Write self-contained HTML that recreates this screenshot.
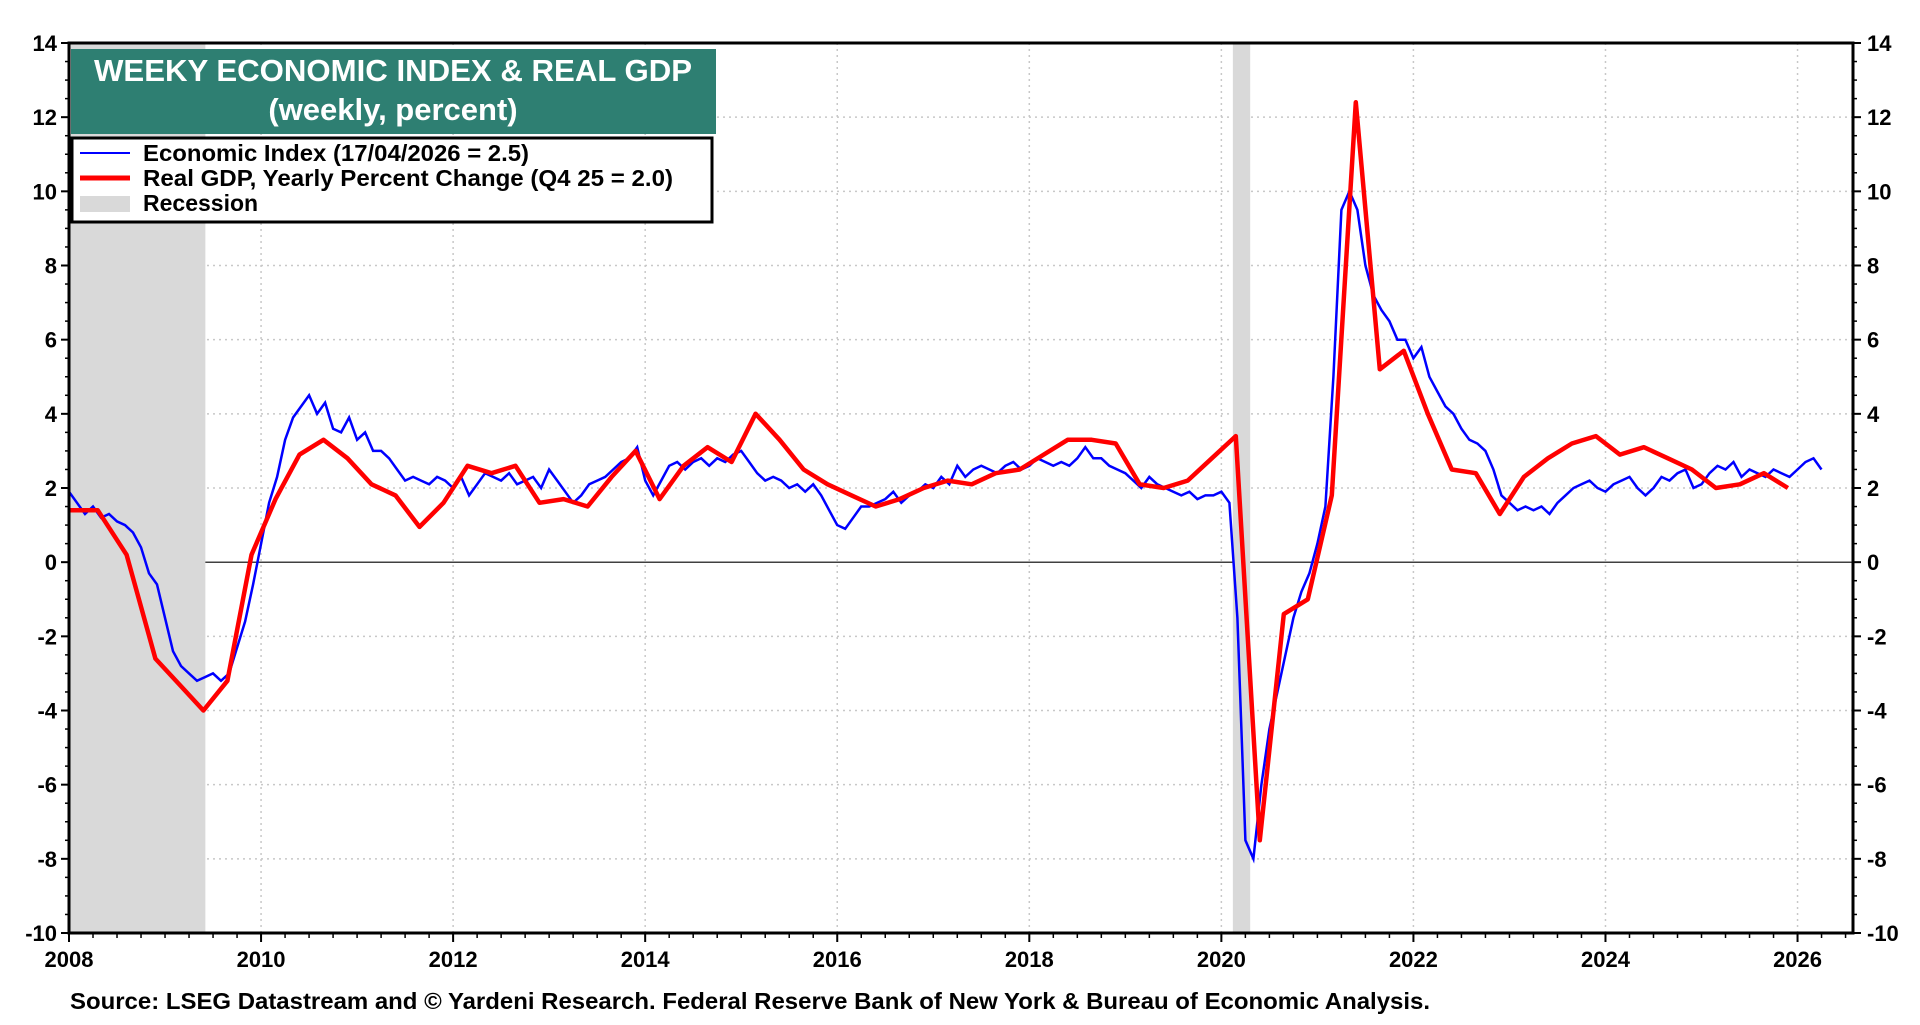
<!DOCTYPE html>
<html><head><meta charset="utf-8">
<style>
html,body{margin:0;padding:0;background:#fff;}
body{width:1920px;height:1020px;overflow:hidden;position:relative;font-family:"Liberation Sans",Arial,sans-serif;}
svg text{font-family:"Liberation Sans",Arial,sans-serif;font-weight:bold;}
</style></head>
<body>
<svg id="chart" width="1920" height="1020" xmlns="http://www.w3.org/2000/svg">
<g id="grid"></g>
<g id="rec"></g>
<g id="series"></g>
<g id="axes"></g>
<g>
<rect x="71" y="49" width="645" height="85" fill="#2e7f72"/>
<text x="393" y="81" font-size="31" fill="#fff" text-anchor="middle" textLength="598" lengthAdjust="spacingAndGlyphs">WEEKY ECONOMIC INDEX &amp; REAL GDP</text>
<text x="393" y="120" font-size="31" fill="#fff" text-anchor="middle">(weekly, percent)</text>
</g>
<g>
<rect x="72" y="138" width="640" height="84" fill="#fff" stroke="#000" stroke-width="3"/>
<line x1="80" y1="153" x2="130" y2="153" stroke="#0000ff" stroke-width="2"/>
<text x="143" y="161" font-size="23" textLength="386" lengthAdjust="spacingAndGlyphs">Economic Index (17/04/2026 = 2.5)</text>
<line x1="80" y1="178" x2="130" y2="178" stroke="#ff0000" stroke-width="5"/>
<text x="143" y="186" font-size="23" textLength="530" lengthAdjust="spacingAndGlyphs">Real GDP, Yearly Percent Change (Q4 25 = 2.0)</text>
<rect x="80" y="196" width="50" height="16" fill="#d9d9d9"/>
<text x="143" y="211" font-size="23">Recession</text>
</g>
<text x="70" y="1009" font-size="23" textLength="1360" lengthAdjust="spacingAndGlyphs">Source: LSEG Datastream and © Yardeni Research. Federal Reserve Bank of New York &amp; Bureau of Economic Analysis.</text>
</svg>
<script>
const yTicks=[14,12,10,8,6,4,2,0,-2,-4,-6,-8,-10];
const xTickYears=[2008,2010,2012,2014,2016,2018,2020,2022,2024,2026];
const recessions=[[2008.0,2009.42],[2020.12,2020.3]];
const gdpDates=[2008.0,2008.3,2008.6,2008.9,2009.15,2009.4,2009.65,2009.9,2010.15,2010.4,2010.65,2010.9,2011.15,2011.4,2011.65,2011.9,2012.15,2012.4,2012.65,2012.9,2013.15,2013.4,2013.65,2013.9,2014.15,2014.4,2014.65,2014.9,2015.15,2015.4,2015.65,2015.9,2016.15,2016.4,2016.65,2016.9,2017.15,2017.4,2017.65,2017.9,2018.15,2018.4,2018.65,2018.9,2019.15,2019.4,2019.65,2019.9,2020.15,2020.4,2020.65,2020.9,2021.15,2021.4,2021.65,2021.9,2022.15,2022.4,2022.65,2022.9,2023.15,2023.4,2023.65,2023.9,2024.15,2024.4,2024.65,2024.9,2025.15,2025.4,2025.65,2025.9];
const gdpValues=[1.4,1.4,0.2,-2.6,-3.3,-4.0,-3.2,0.2,1.7,2.9,3.3,2.8,2.1,1.8,0.95,1.6,2.6,2.4,2.6,1.6,1.7,1.5,2.3,3.0,1.7,2.6,3.1,2.7,4.0,3.3,2.5,2.1,1.8,1.5,1.7,2.0,2.2,2.1,2.4,2.5,2.9,3.3,3.3,3.2,2.1,2.0,2.2,2.8,3.4,-7.5,-1.4,-1.0,1.8,12.4,5.2,5.7,4.0,2.5,2.4,1.3,2.3,2.8,3.2,3.4,2.9,3.1,2.8,2.5,2.0,2.1,2.4,2.0];
const eiStart=2008.0;
const eiValues=[1.9,1.6,1.3,1.5,1.2,1.3,1.1,1.0,0.8,0.4,-0.3,-0.6,
-1.5,-2.4,-2.8,-3.0,-3.2,-3.1,-3.0,-3.2,-3.0,-2.3,-1.6,-0.6,
0.5,1.6,2.3,3.3,3.9,4.2,4.5,4.0,4.3,3.6,3.5,3.9,
3.3,3.5,3.0,3.0,2.8,2.5,2.2,2.3,2.2,2.1,2.3,2.2,
2.0,2.3,1.8,2.1,2.4,2.3,2.2,2.4,2.1,2.2,2.3,2.0,
2.5,2.2,1.9,1.6,1.8,2.1,2.2,2.3,2.5,2.7,2.8,3.1,
2.2,1.8,2.2,2.6,2.7,2.5,2.7,2.8,2.6,2.8,2.7,2.9,
3.0,2.7,2.4,2.2,2.3,2.2,2.0,2.1,1.9,2.1,1.8,1.4,
1.0,0.9,1.2,1.5,1.5,1.6,1.7,1.9,1.6,1.8,1.9,2.1,
2.0,2.3,2.1,2.6,2.3,2.5,2.6,2.5,2.4,2.6,2.7,2.5,
2.6,2.8,2.7,2.6,2.7,2.6,2.8,3.1,2.8,2.8,2.6,2.5,
2.4,2.2,2.0,2.3,2.1,2.0,1.9,1.8,1.9,1.7,1.8,1.8,
1.9,1.6,-1.5,-7.5,-8.0,-6.0,-4.5,-3.5,-2.5,-1.5,-0.8,-0.3,
0.5,1.5,5.0,9.5,10.0,9.5,8.0,7.2,6.8,6.5,6.0,6.0,
5.5,5.8,5.0,4.6,4.2,4.0,3.6,3.3,3.2,3.0,2.5,1.8,
1.6,1.4,1.5,1.4,1.5,1.3,1.6,1.8,2.0,2.1,2.2,2.0,
1.9,2.1,2.2,2.3,2.0,1.8,2.0,2.3,2.2,2.4,2.5,2.0,
2.1,2.4,2.6,2.5,2.7,2.3,2.5,2.4,2.3,2.5,2.4,2.3,
2.5,2.7,2.8,2.5];

const L=69,R=1853,T=43,B=933,X0=2008,PX_YR=96.03,YMAX=14,YMIN=-10;
const sx=v=>L+(v-X0)*PX_YR;
const sy=v=>T+(YMAX-v)*(B-T)/(YMAX-YMIN);
const NS='http://www.w3.org/2000/svg';
function mk(tag,attrs,parent){const e=document.createElementNS(NS,tag);for(const k in attrs)e.setAttribute(k,attrs[k]);parent.appendChild(e);return e;}
const grid=document.getElementById('grid'),axes=document.getElementById('axes'),rec=document.getElementById('rec'),series=document.getElementById('series');

yTicks.forEach(v=>{
  if(v!==YMAX&&v!==YMIN){const g=mk('line',{x1:L,x2:R,y1:sy(v),y2:sy(v),stroke:v===0?'#000':'#c8c8c8','stroke-width':v===0?1.2:1.5,'stroke-dasharray':v===0?'':'2,4'},grid);
  
  }
  const t1=mk('text',{x:L-12,y:sy(v)+8,'font-size':22,'text-anchor':'end'},axes);t1.textContent=v;
  
  
  const t2=mk('text',{x:R+14,y:sy(v)+8,'font-size':22,'text-anchor':'start'},axes);t2.textContent=v;
  
  
  mk('line',{x1:L-8,x2:L,y1:sy(v),y2:sy(v),stroke:'#000','stroke-width':2},axes);
  mk('line',{x1:R,x2:R+8,y1:sy(v),y2:sy(v),stroke:'#000','stroke-width':2},axes);
});
for(let v=YMIN;v<YMAX;v+=0.5){if(v%2!==0){mk('line',{x1:L-4,x2:L,y1:sy(v),y2:sy(v),stroke:'#000','stroke-width':1.5},axes);mk('line',{x1:R,x2:R+4,y1:sy(v),y2:sy(v),stroke:'#000','stroke-width':1.5},axes);}}
xTickYears.forEach(yr=>{
  if(yr!==X0){const g=mk('line',{x1:sx(yr),x2:sx(yr),y1:T,y2:B,stroke:'#c8c8c8','stroke-width':1.5,'stroke-dasharray':'2,4'},grid);
  
  }
  const t=mk('text',{x:sx(yr),y:B+34,'font-size':22,'text-anchor':'middle'},axes);t.textContent=yr;
  
  
  mk('line',{x1:sx(yr),x2:sx(yr),y1:B,y2:B+9,stroke:'#000','stroke-width':2},axes);
});
for(let q=X0+0.25;q<2026.6;q+=0.25){mk('line',{x1:sx(q),x2:sx(q),y1:B,y2:B+5,stroke:'#000','stroke-width':1.5},axes);}
mk('rect',{x:L,y:T,width:R-L,height:B-T,fill:'none',stroke:'#000','stroke-width':3},axes);

recessions.forEach(r=>{const e=mk('rect',{x:sx(r[0]),y:T,width:sx(r[1])-sx(r[0]),height:B-T,fill:'#d9d9d9'},rec);

});

let d='';eiValues.forEach((v,i)=>{d+=(i?'L':'M')+sx(eiStart+i/12).toFixed(1)+','+sy(v).toFixed(1);});
const ei=mk('path',{d:d,fill:'none',stroke:'#0000ff','stroke-width':2.5},series);


let d2='';gdpValues.forEach((v,i)=>{d2+=(i?'L':'M')+sx(gdpDates[i]).toFixed(1)+','+sy(v).toFixed(1);});
const gp=mk('path',{d:d2,fill:'none',stroke:'#ff0000','stroke-width':4.5,'stroke-linejoin':'round'},series);


</script>
</body></html>
